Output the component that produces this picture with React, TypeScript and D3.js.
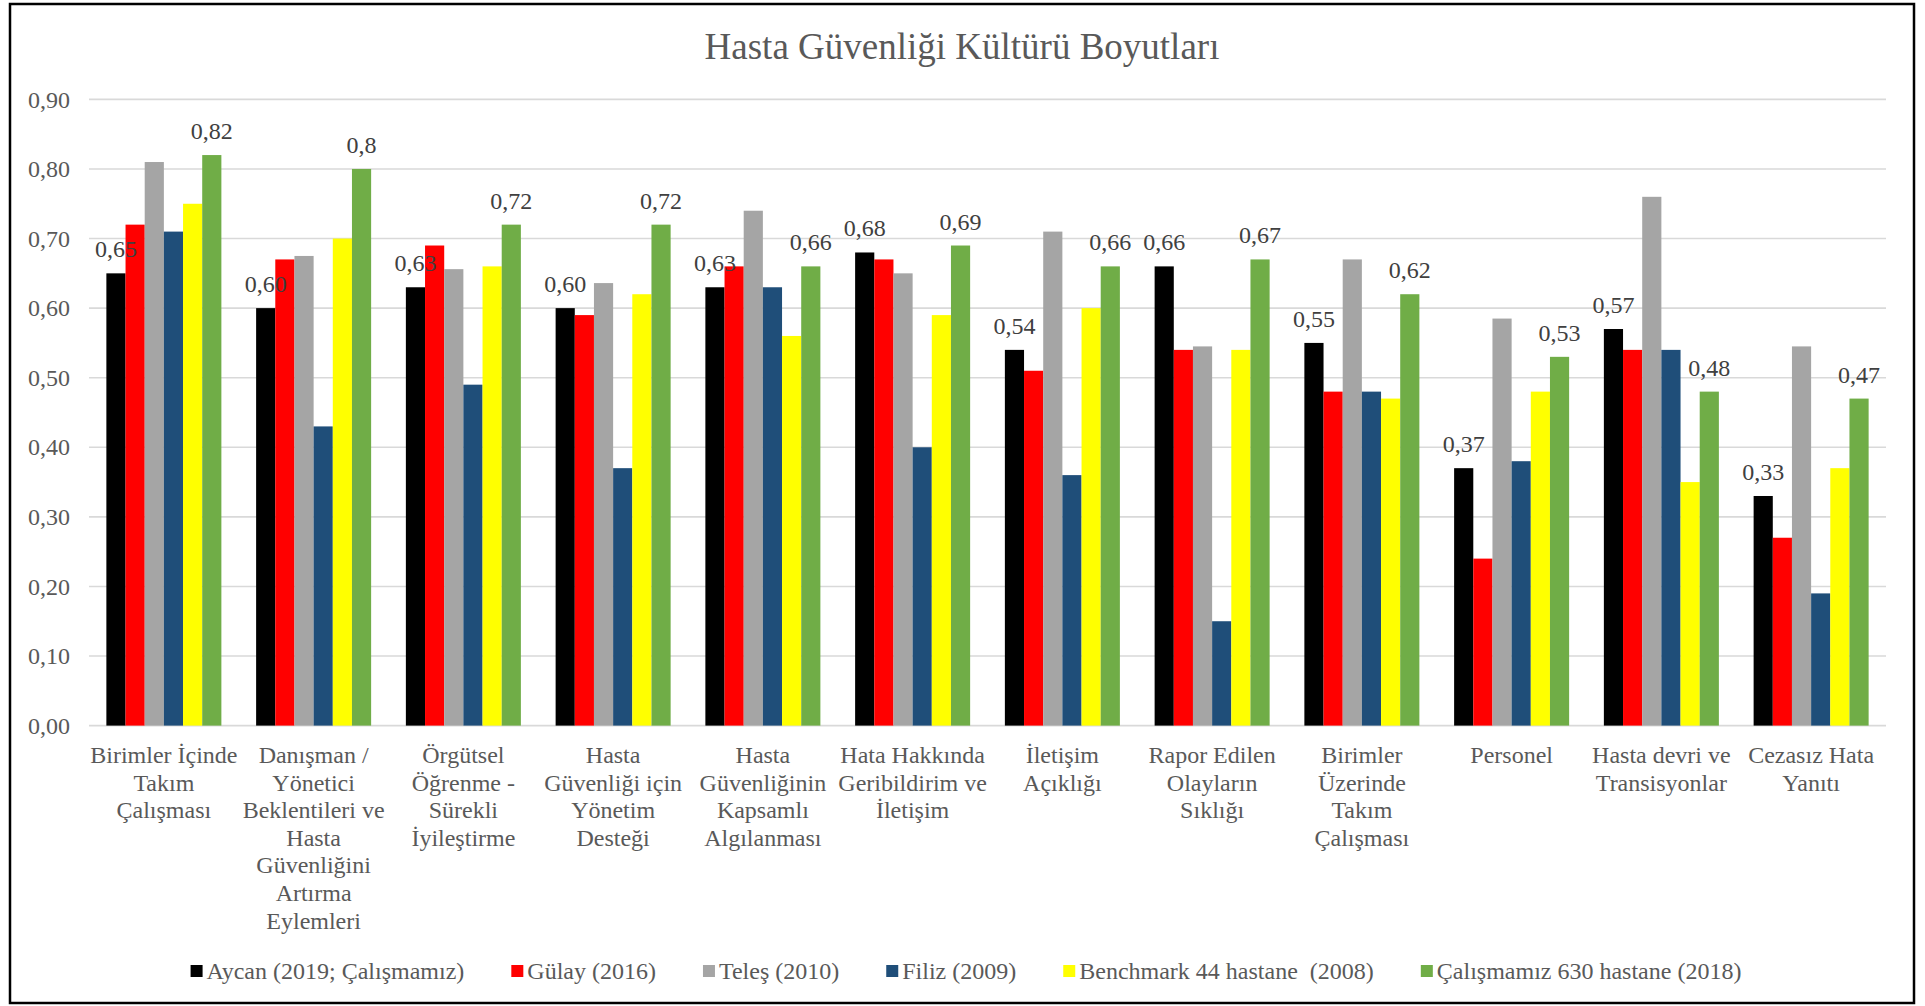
import React from "react";
import * as d3 from "d3"

const categories = [
    "Birimler İçinde Takım Çalışması",
    "Danışman / Yönetici Beklentileri ve Hasta Güvenliğini Artırma Eylemleri",
    "Örgütsel Öğrenme - Sürekli İyileştirme",
    "Hasta Güvenliği için Yönetim Desteği",
    "Hasta Güvenliğinin Kapsamlı Algılanması",
    "Hata Hakkında Geribildirim ve İletişim",
    "İletişim Açıklığı",
    "Rapor Edilen Olayların Sıklığı",
    "Birimler Üzerinde Takım Çalışması",
    "Personel",
    "Hasta devri ve Transisyonlar",
    "Cezasız Hata Yanıtı",
]

const aycan = [0.65, 0.60, 0.63, 0.60, 0.63, 0.68, 0.54, 0.66, 0.55, 0.37, 0.57, 0.33]
const gulay = [0.72, 0.67, 0.69, 0.59, 0.66, 0.67, 0.51, 0.54, 0.48, 0.24, 0.54, 0.27]
const teles = [0.81, 0.675, 0.656, 0.636, 0.74, 0.65, 0.71, 0.545, 0.67, 0.585, 0.76, 0.545]
const filiz = [0.71, 0.43, 0.49, 0.37, 0.63, 0.40, 0.36, 0.15, 0.48, 0.38, 0.54, 0.19]
const benchmark = [0.75, 0.70, 0.66, 0.62, 0.56, 0.59, 0.60, 0.54, 0.47, 0.48, 0.35, 0.37]
const calismamiz = [0.82, 0.8, 0.72, 0.72, 0.66, 0.69, 0.66, 0.67, 0.62, 0.53, 0.48, 0.47]

const seriesNames = [
    "Aycan (2019; Çalışmamız)",
    "Gülay (2016)",
    "Teleş (2010)",
    "Filiz (2009)",
    "Benchmark 44 hastane  (2008)",
    "Çalışmamız 630 hastane (2018)",
]
const seriesValues = [aycan, gulay, teles, filiz, benchmark, calismamiz]
const seriesColors = ["#000000", "#FF0000", "#A5A5A5", "#1F4E79", "#FFFF00", "#70AD47"]
const yTicks = [0, 0.1, 0.2, 0.3, 0.4, 0.5, 0.6, 0.7, 0.8, 0.9]
const title = "Hasta Güvenliği Kültürü Boyutları"

const W = 1925
const H = 1006
const font = "'Liberation Serif', 'Times New Roman', serif"
const textColor = "#595959"

// comma as decimal separator
const fmt2 = (v: number) => d3.format(".2f")(v).replace(".", ",")
const fmtGeneral = (v: number) => String(v).replace(".", ",")
const labelFormats: { [k: number]: (v: number) => string } = { 0: fmt2, 5: fmtGeneral }
// keep double spaces visible in svg text
const keepSpaces = (t: string) => t.replace(/  /g, " \u00A0")

export default class App extends React.Component {
    svg: React.RefObject<SVGSVGElement> = React.createRef<SVGSVGElement>()
    componentDidMount() {
        //@ts-ignore
        const svg = d3.select(this.svg.current)
        svg.selectAll("*").remove()

        const x0 = d3.scaleBand<number>()
            .domain(categories.map((c, i) => i))
            .range([89, 1886])
            .paddingInner(0.232)
            .paddingOuter(0.116)
        const x1 = d3.scaleBand<number>()
            .domain(seriesNames.map((s, i) => i))
            .range([0, x0.bandwidth()])
        const y = d3.scaleLinear().domain([0, 0.9]).range([725.6, 99.4])

        svg.append("rect")
            .attr("x", 0).attr("y", 0).attr("width", W).attr("height", H)
            .attr("fill", "#fff")
        svg.append("rect")
            .attr("x", 10).attr("y", 4).attr("width", 1904).attr("height", 999)
            .attr("fill", "none").attr("stroke", "#000").attr("stroke-width", 2.5)

        svg.append("text")
            .attr("x", 962).attr("y", 59)
            .attr("text-anchor", "middle")
            .attr("font-family", font).attr("font-size", 37)
            .attr("fill", textColor)
            .text(title)

        // grid + y labels
        const grid = svg.append("g")
        grid.selectAll("line")
            .data(yTicks)
            .join("line")
            .attr("x1", 89).attr("x2", 1886)
            .attr("y1", d => y(d)).attr("y2", d => y(d))
            .attr("stroke", "#D9D9D9").attr("stroke-width", 1.6)
        grid.selectAll("text")
            .data(yTicks)
            .join("text")
            .attr("x", 70).attr("y", d => y(d))
            .attr("dy", "0.34em")
            .attr("text-anchor", "end")
            .attr("font-family", font).attr("font-size", 24)
            .attr("fill", textColor)
            .text(d => fmt2(d))

        // bars
        const groups = svg.append("g")
            .selectAll("g")
            .data(categories.map((c, i) => i))
            .join("g")
            .attr("transform", i => `translate(${x0(i)},0)`)
        groups.selectAll("rect")
            .data(i => seriesValues.map((vals, s) => ({ s, v: vals[i] })))
            .join("rect")
            .attr("x", d => x1(d.s)!)
            .attr("width", x1.bandwidth())
            .attr("y", d => y(d.v))
            .attr("height", d => y(0) - y(d.v))
            .attr("fill", d => seriesColors[d.s])

        // data labels (Aycan + Çalışmamız)
        groups.selectAll("text")
            .data(i => [0, 5].map(s => ({ s, v: seriesValues[s][i] })))
            .join("text")
            .attr("x", d => x1(d.s)! + x1.bandwidth() / 2)
            .attr("y", d => y(d.v) - 16)
            .attr("text-anchor", "middle")
            .attr("font-family", font).attr("font-size", 24)
            .attr("fill", "#404040")
            .text(d => labelFormats[d.s](d.v))

        // category labels with wrapping
        const measure = svg.append("text")
            .attr("font-family", font).attr("font-size", 24)
            .attr("visibility", "hidden")
        const width = (t: string) => {
            measure.text(t)
            return (measure.node() as SVGTextElement).getComputedTextLength()
        }
        const wrap = (label: string) => {
            const words = label.split(" ")
            const lines: string[] = []
            let cur = ""
            words.forEach(w => {
                const next = cur ? cur + " " + w : w
                if (cur && width(next) > 152) {
                    lines.push(cur)
                    cur = w
                } else {
                    cur = next
                }
            })
            if (cur) lines.push(cur)
            return lines
        }
        const cats = svg.append("g")
        categories.forEach((c, i) => {
            const t = cats.append("text")
                .attr("x", x0(i)! + x0.bandwidth() / 2)
                .attr("y", 763)
                .attr("text-anchor", "middle")
                .attr("font-family", font).attr("font-size", 24)
                .attr("fill", textColor)
            wrap(c).forEach((line, k) => {
                t.append("tspan")
                    .attr("x", x0(i)! + x0.bandwidth() / 2)
                    .attr("y", 763 + k * 27.6)
                    .text(line)
            })
        })

        // legend
        const widths = seriesNames.map(n => width(keepSpaces(n)))
        measure.remove()
        const marker = 12, gapText = 4, gapItem = 47
        const total = d3.sum(widths) + seriesNames.length * (marker + gapText) + (seriesNames.length - 1) * gapItem
        let lx = 966 - total / 2
        const legend = svg.append("g")
        seriesNames.forEach((n, i) => {
            legend.append("rect")
                .attr("x", lx).attr("y", 965)
                .attr("width", marker).attr("height", marker)
                .attr("fill", seriesColors[i])
            legend.append("text")
                .attr("x", lx + marker + gapText).attr("y", 979)
                .attr("font-family", font).attr("font-size", 24)
                .attr("fill", textColor)
                .text(keepSpaces(n))
            lx += marker + gapText + widths[i] + gapItem
        })
    }
    render(): React.ReactNode {
        return (
            <>
                <svg ref={this.svg} width={W} height={H} viewBox={`0 0 ${W} ${H}`}
                    style={{ position: "absolute", left: 0, top: 0, display: "block" }}></svg>
            </>
        )
    }
}
